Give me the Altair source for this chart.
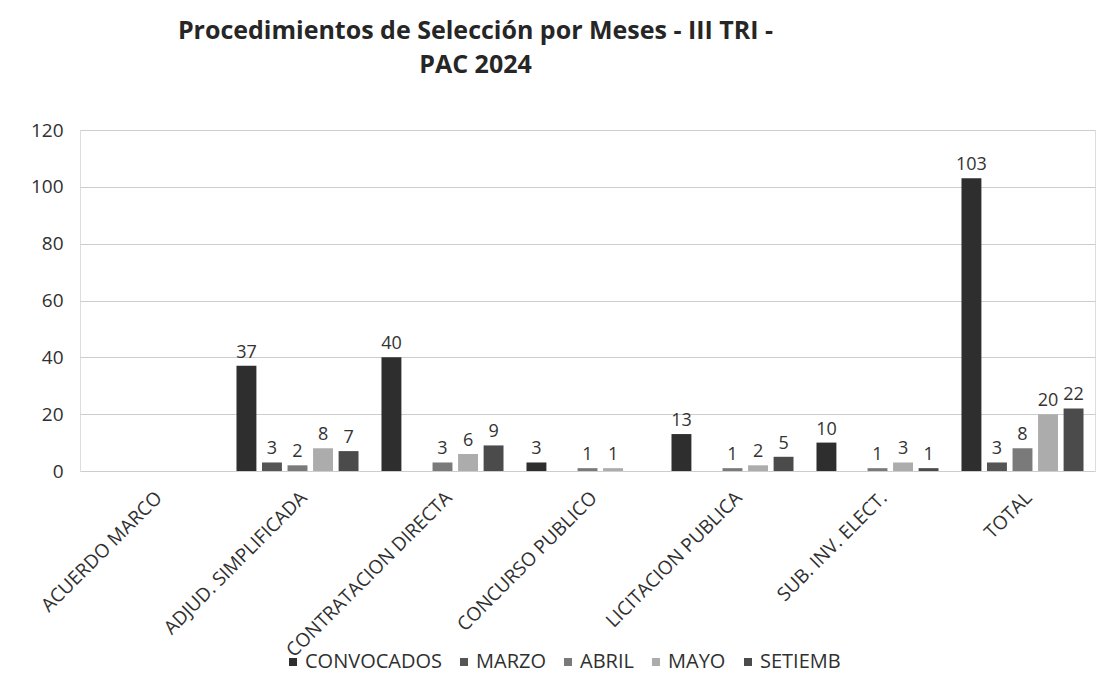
import altair as alt
import pandas as pd

categories = ["ACUERDO MARCO", "ADJUD. SIMPLIFICADA", "CONTRATACION DIRECTA",
              "CONCURSO PUBLICO", "LICITACION PUBLICA", "SUB. INV. ELECT.", "TOTAL"]
series = ["CONVOCADOS", "MARZO", "ABRIL", "MAYO", "SETIEMB"]
convocados = [0, 37, 40, 3, 13, 10, 103]
marzo = [0, 3, 0, 0, 0, 0, 3]
abril = [0, 2, 3, 1, 1, 1, 8]
mayo = [0, 8, 6, 1, 2, 3, 20]
setiemb = [0, 7, 9, 0, 5, 1, 22]
colors = ["#2e2e2e", "#555555", "#7a7a7a", "#acacac", "#4b4b4b"]
y_ticks = [0, 20, 40, 60, 80, 100, 120]
title_lines = ["Procedimientos de Selección por Meses - III TRI -", "PAC 2024"]

rows = []
for s, vals in zip(series, [convocados, marzo, abril, mayo, setiemb]):
    for c, v in zip(categories, vals):
        rows.append({"cat": c, "serie": s, "value": v})
df = pd.DataFrame(rows)

FONT = "Open Sans"

x_enc = alt.X("cat:N", sort=categories,
              scale=alt.Scale(domain=categories, paddingInner=0, paddingOuter=0),
              axis=alt.Axis(title=None, labelAngle=-45, labelFontSize=19, labelPadding=17,
                            labelLimit=0, ticks=False, domain=False,
                            labelColor="#303030", labelFont=FONT))
xo_enc = alt.XOffset("serie:N", sort=series,
                     scale=alt.Scale(domain=series, paddingInner=0.22, paddingOuter=0.45))
y_enc = alt.Y("value:Q", scale=alt.Scale(domain=[0, 120]),
              axis=alt.Axis(title=None, values=y_ticks, labelFontSize=19, labelPadding=17,
                            ticks=False, domain=False, gridColor="#cdcdcd", gridWidth=1,
                            labelColor="#303030", labelFont=FONT))

base = alt.Chart(df).transform_filter(alt.datum.value > 0)

bars = base.mark_bar().encode(
    x=x_enc, xOffset=xo_enc, y=y_enc,
    color=alt.Color("serie:N", sort=series,
                    scale=alt.Scale(domain=series, range=colors),
                    legend=alt.Legend(title=None, orient="none", direction="horizontal",
                                      legendX=203, legendY=522, symbolType="square",
                                      symbolSize=64, symbolStrokeWidth=0,
                                      labelFontSize=20, labelFont=FONT, labelColor="#303030",
                                      labelOffset=2, columnPadding=12, padding=0)),
)

labels = base.mark_text(baseline="bottom", dy=-4, fontSize=18, font=FONT, color="#333333").encode(
    x=x_enc, xOffset=xo_enc, y=y_enc, text=alt.Text("value:Q"),
)

chart = alt.layer(bars, labels).properties(
    width=1015, height=341,
    autosize=alt.AutoSizeParams(type="none"),
    padding={"left": 72, "top": 122, "right": 8, "bottom": 210},
    title=alt.TitleParams(text=title_lines, fontSize=25, font=FONT, fontWeight="bold",
                          color="#262626", anchor="middle", frame="group", dx=-112,
                          offset=43, lineHeight=34),
).configure_view(stroke=None).configure(background="white")

chart.save("out.html", embed_options={"renderer": "svg", "actions": False})
